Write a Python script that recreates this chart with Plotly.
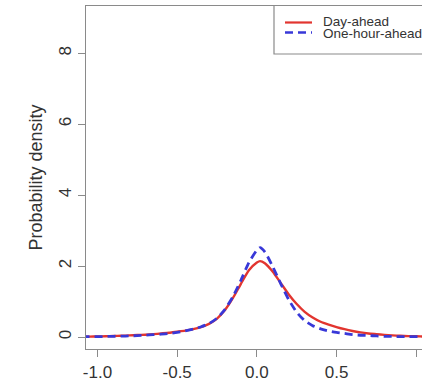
import plotly.graph_objects as go

# ---- data ----
x_grid = [-1.10, -1.05, -1.00, -0.95, -0.90, -0.85, -0.80, -0.75, -0.70, -0.65,
          -0.60, -0.55, -0.50, -0.45, -0.40, -0.35, -0.30, -0.25, -0.20, -0.15,
          -0.10, -0.05, 0.00, 0.02, 0.05, 0.10, 0.15, 0.20, 0.25, 0.30,
          0.35, 0.40, 0.45, 0.50, 0.55, 0.60, 0.65, 0.70, 0.75, 0.80,
          0.85, 0.90, 0.95, 1.00, 1.05, 1.10]
day_ahead = [0.01, 0.01, 0.015, 0.02, 0.03, 0.035, 0.045, 0.055, 0.065, 0.08,
             0.10, 0.12, 0.15, 0.18, 0.22, 0.28, 0.37, 0.52, 0.76, 1.10,
             1.50, 1.88, 2.10, 2.14, 2.08, 1.84, 1.52, 1.20, 0.93, 0.71,
             0.55, 0.43, 0.35, 0.28, 0.22, 0.17, 0.13, 0.10, 0.08, 0.06,
             0.045, 0.035, 0.025, 0.02, 0.015, 0.01]
one_hour_ahead = [0.01, 0.01, 0.01, 0.015, 0.02, 0.025, 0.03, 0.04, 0.05, 0.065,
                  0.08, 0.10, 0.13, 0.17, 0.22, 0.29, 0.38, 0.53, 0.78, 1.14,
                  1.60, 2.10, 2.45, 2.52, 2.40, 1.98, 1.50, 1.05, 0.70, 0.46,
                  0.32, 0.23, 0.17, 0.13, 0.10, 0.07, 0.05, 0.04, 0.03, 0.02,
                  0.015, 0.012, 0.01, 0.01, 0.01, 0.01]
series_names = ["Day-ahead", "One-hour-ahead"]
x_tick_vals = [-1.0, -0.5, 0.0, 0.5, 1.0]
x_tick_text = ["-1.0", "-0.5", "0.0", "0.5", "1.0"]
y_tick_vals = [0, 2, 4, 6, 8]
y_tick_text = ["0", "2", "4", "6", "8"]

# ---- layout constants ----
W, H = 422, 381
ML, MT, MB, MR = 86, 6, 32, 0
RED = "#e2352f"
BLUE = "#3838d8"
AXIS = "#8a8a8a"
TXT = "#333333"
FONT = "Liberation Sans, Arial, sans-serif"


def px_x(px):
    return (px - ML) / (W - ML - MR)


def px_y(py):
    return (H - MB - py) / (H - MT - MB)


fig = go.Figure()
fig.add_trace(go.Scatter(x=x_grid, y=day_ahead, mode="lines", name=series_names[0],
                         line=dict(color=RED, width=2.4, shape="spline", smoothing=0.6),
                         showlegend=False))
fig.add_trace(go.Scatter(x=x_grid, y=one_hour_ahead, mode="lines", name=series_names[1],
                         line=dict(color=BLUE, width=2.8, dash="8px,5px", shape="spline",
                                   smoothing=0.6),
                         showlegend=False))

# manual legend (R style box, right part cropped off like the reference)
shapes = [
    dict(type="rect", xref="paper", yref="paper",
         x0=px_x(274), x1=px_x(440), y0=px_y(54), y1=px_y(5.5),
         line=dict(color=AXIS, width=1.2), fillcolor="white", layer="above"),
    dict(type="line", xref="paper", yref="paper",
         x0=px_x(285), x1=px_x(312), y0=px_y(22.5), y1=px_y(22.5),
         line=dict(color=RED, width=2.2), layer="above"),
    dict(type="line", xref="paper", yref="paper",
         x0=px_x(285), x1=px_x(312), y0=px_y(32.5), y1=px_y(32.5),
         line=dict(color=BLUE, width=2.4, dash="8px,5px"), layer="above"),
]
annotations = [
    dict(text=series_names[0], xref="paper", yref="paper", x=px_x(321), y=px_y(21.5),
         xanchor="left", yanchor="middle", showarrow=False,
         font=dict(family=FONT, size=13.5, color=TXT)),
    dict(text=series_names[1], xref="paper", yref="paper", x=px_x(321), y=px_y(33.5),
         xanchor="left", yanchor="middle", showarrow=False,
         font=dict(family=FONT, size=13.5, color=TXT)),
    dict(text="Probability density", xref="paper", yref="paper", x=0, y=0.5,
         xshift=-51, xanchor="center", yanchor="middle", textangle=-90, showarrow=False,
         font=dict(family=FONT, size=18, color=TXT)),
]

fig.update_layout(
    width=W, height=H,
    margin=dict(l=ML, r=MR, t=MT, b=MB, pad=0),
    paper_bgcolor="white", plot_bgcolor="white",
    font=dict(family=FONT, size=17, color=TXT),
    shapes=shapes, annotations=annotations,
    showlegend=False,
    xaxis=dict(range=[-1.072, 1.036], tickvals=x_tick_vals, ticktext=x_tick_text,
               showgrid=False, zeroline=False, showline=True, mirror=True,
               linecolor=AXIS, linewidth=1.2, ticks="outside", ticklen=7,
               tickcolor=AXIS, tickwidth=1.2, tickfont=dict(size=17, color=TXT)),
    yaxis=dict(range=[-0.338, 9.33], tickvals=y_tick_vals, ticktext=y_tick_text,
               showgrid=False, zeroline=False, showline=True, mirror=False,
               linecolor=AXIS, linewidth=1.2, ticks="outside", ticklen=7,
               tickcolor=AXIS, tickwidth=1.2, tickangle=-90,
               tickfont=dict(size=17, color=TXT)),
)

fig.write_html(
    "out.html",
    config={"displayModeBar": False},
    post_script="document.body.style.margin='0';document.body.style.overflow='hidden';",
)
